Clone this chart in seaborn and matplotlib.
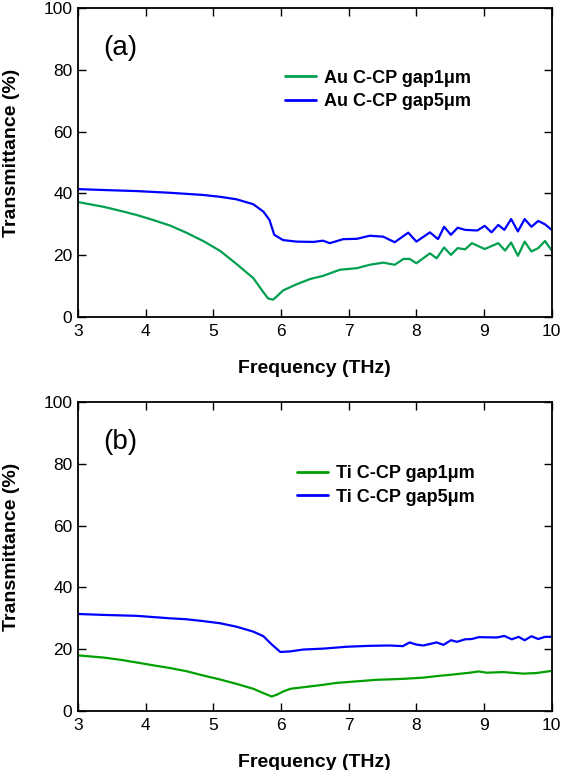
import numpy as np
import pandas as pd
import matplotlib
matplotlib.use('Agg')
import matplotlib.pyplot as plt
import seaborn as sns

# ---- panel (a): Au C-CP ----
au_gap1_freq = [3.0, 3.37, 3.62, 3.87, 4.11, 4.36, 4.60, 4.85, 5.10, 5.34, 5.59, 5.74, 5.81, 5.88,
                5.94, 6.03, 6.23, 6.43, 6.62, 6.87, 7.12, 7.31, 7.51, 7.68, 7.81, 7.90, 8.00, 8.20,
                8.30, 8.41, 8.51, 8.61, 8.72, 8.82, 9.01, 9.21, 9.31, 9.40, 9.50, 9.60, 9.70, 9.80,
                9.90, 10.0]
au_gap1_T = [37.2, 35.7, 34.4, 33.0, 31.4, 29.6, 27.3, 24.6, 21.4, 17.2, 12.6, 8.0, 6.0, 5.6,
             6.7, 8.6, 10.6, 12.3, 13.3, 15.3, 15.8, 16.9, 17.6, 16.9, 18.8, 18.8, 17.4, 20.6,
             19.0, 22.5, 20.1, 22.3, 21.9, 23.9, 22.0, 23.9, 21.5, 24.1, 19.8, 24.4, 21.2, 22.3,
             24.6, 21.5]

au_gap5_freq = [3.0, 3.37, 3.87, 4.36, 4.85, 5.10, 5.34, 5.59, 5.74, 5.83, 5.90, 6.03, 6.23, 6.48,
                6.62, 6.72, 6.92, 7.12, 7.31, 7.51, 7.68, 7.88, 8.00, 8.20, 8.32, 8.41, 8.51, 8.61,
                8.72, 8.90, 9.01, 9.11, 9.21, 9.30, 9.40, 9.50, 9.60, 9.70, 9.80, 9.90, 10.0]
au_gap5_T = [41.4, 41.1, 40.75, 40.2, 39.5, 38.9, 38.1, 36.5, 34.1, 31.4, 26.6, 24.9, 24.4, 24.3,
             24.7, 23.9, 25.2, 25.3, 26.3, 26.0, 24.2, 27.3, 24.4, 27.4, 25.2, 29.2, 26.6, 28.9,
             28.2, 28.0, 29.5, 27.4, 29.8, 28.2, 31.7, 27.7, 31.7, 29.2, 31.1, 30.0, 28.2]

# ---- panel (b): Ti C-CP ----
ti_gap1_freq = [3.0, 3.38, 3.62, 3.87, 4.11, 4.36, 4.60, 4.85, 5.10, 5.34, 5.59, 5.74, 5.86, 5.94,
                6.04, 6.14, 6.33, 6.63, 6.82, 7.12, 7.41, 7.80, 8.10, 8.30, 8.49, 8.79, 8.92, 9.04,
                9.28, 9.58, 9.78, 10.0]
ti_gap1_T = [18.0, 17.3, 16.6, 15.7, 14.8, 13.9, 12.9, 11.5, 10.2, 8.8, 7.2, 5.8, 4.7, 5.3,
             6.4, 7.2, 7.7, 8.5, 9.1, 9.6, 10.1, 10.4, 10.8, 11.3, 11.7, 12.4, 12.8, 12.4,
             12.6, 12.1, 12.3, 13.0]

ti_gap5_freq = [3.0, 3.38, 3.87, 4.36, 4.60, 4.85, 5.10, 5.34, 5.59, 5.74, 5.86, 5.99, 6.14, 6.33,
                6.63, 6.97, 7.31, 7.61, 7.80, 7.90, 8.00, 8.10, 8.30, 8.40, 8.51, 8.60, 8.72, 8.82,
                8.92, 9.19, 9.30, 9.41, 9.51, 9.60, 9.70, 9.80, 9.90, 10.0]
ti_gap5_T = [31.4, 31.1, 30.8, 30.0, 29.7, 29.1, 28.4, 27.3, 25.7, 24.2, 21.6, 19.1, 19.3, 19.9,
             20.2, 20.8, 21.1, 21.2, 21.0, 22.2, 21.5, 21.2, 22.2, 21.4, 22.9, 22.4, 23.2, 23.3,
             23.9, 23.8, 24.3, 23.2, 24.0, 22.9, 24.2, 23.3, 24.0, 24.0]

x_ticks = [3, 4, 5, 6, 7, 8, 9, 10]
y_ticks = [0, 20, 40, 60, 80, 100]

sns.set_style('ticks')
plt.rcParams['font.family'] = ['Liberation Sans', 'DejaVu Sans']
plt.rcParams['text.color'] = 'black'
plt.rcParams['axes.labelcolor'] = 'black'
plt.rcParams['xtick.color'] = 'black'
plt.rcParams['ytick.color'] = 'black'


def long_form(series):
    frames = []
    for name, f, t in series:
        frames.append(pd.DataFrame({'freq': f, 'T': t, 'series': name}))
    return pd.concat(frames, ignore_index=True)


def draw_panel(ax, df, palette, tag, leg_anchor):
    sns.lineplot(data=df, x='freq', y='T', hue='series', palette=palette,
                 linewidth=1.6, ax=ax, estimator=None, sort=True)
    ax.set_xlim(3, 10)
    ax.set_ylim(0, 100)
    ax.set_xticks(x_ticks)
    ax.set_yticks(y_ticks)
    ax.tick_params(axis='both', which='major', direction='in', length=5.5, width=1,
                   labelsize=12.5, top=True, right=True, color='black',
                   labelcolor='black', pad=4)
    ax.tick_params(axis='x', pad=5)
    for sp in ax.spines.values():
        sp.set_linewidth(1.3)
        sp.set_color('black')
    ax.set_xlabel('Frequency (THz)', fontsize=14, fontweight='bold', color='black')
    ax.set_ylabel('Transmittance (%)', fontsize=14, fontweight='bold', color='black')
    ax.xaxis.set_label_coords(0.5, -0.14)
    ax.yaxis.set_label_coords(-0.122, 0.53)
    ax.text(3.37, 87, tag, fontsize=20, va='center', ha='left', color='black')
    leg = ax.legend(loc='upper left', bbox_to_anchor=leg_anchor, frameon=False,
                    prop={'weight': 'bold', 'size': 13}, handlelength=1.7,
                    handletextpad=0.45, labelspacing=0.35, borderpad=0, borderaxespad=0)
    for text in leg.get_texts():
        text.set_color('black')
    for line in leg.get_lines():
        line.set_linewidth(2)


fig = plt.figure(figsize=(5.63, 7.70), dpi=100)
ax_a = fig.add_axes([0.1385, 0.5883, 0.8415, 0.4013])
ax_b = fig.add_axes([0.1385, 0.0766, 0.8415, 0.4013])

df_a = long_form([('Au C-CP gap1\u03bcm', au_gap1_freq, au_gap1_T),
                  ('Au C-CP gap5\u03bcm', au_gap5_freq, au_gap5_T)])
df_b = long_form([('Ti C-CP gap1\u03bcm', ti_gap1_freq, ti_gap1_T),
                  ('Ti C-CP gap5\u03bcm', ti_gap5_freq, ti_gap5_T)])

draw_panel(ax_a, df_a, ['#00a050', '#0000ff'], '(a)', (0.437, 0.80))
draw_panel(ax_b, df_b, ['#00a000', '#0000ff'], '(b)', (0.462, 0.795))

fig.savefig('out.png', dpi=100)
